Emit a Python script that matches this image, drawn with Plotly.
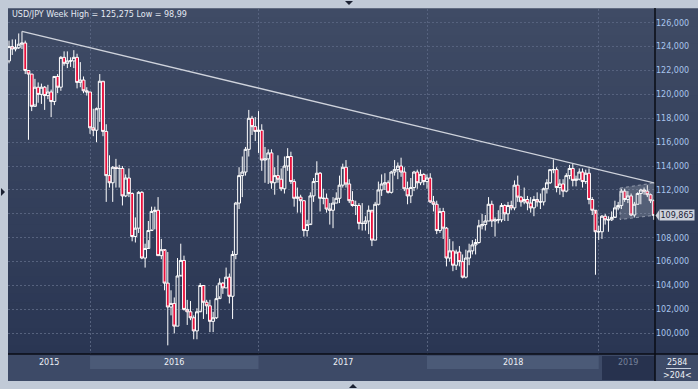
import plotly.graph_objects as go
import pandas as pd

# ---------------- data ----------------
week_start = "2015-07-13"
n_weeks = 200
dates = list(pd.date_range(week_start, periods=n_weeks, freq="7D"))

opens_2015 = [122.8,124.0,123.8,123.9,124.2,124.3,122.0,121.7,119.0,120.6,120.0,120.6,119.9,120.2,119.4,121.5,120.6,123.1,122.6,122.8,122.8,123.1,121.0,121.2,120.3]
highs_2015 = [124.5,124.6,124.6,125.1,125.275,124.5,122.0,121.7,121.3,121.0,120.9,120.7,120.8,120.4,121.5,121.7,123.2,123.6,123.6,123.1,123.7,123.4,122.7,121.5,120.6]
lows_2015 = [122.6,123.3,123.6,123.8,123.8,121.7,116.2,118.6,119.2,119.3,119.2,118.7,119.6,118.1,119.1,120.1,120.3,122.4,122.2,122.3,122.2,120.5,120.6,120.1,119.9]
closes_2015 = [124.0,123.8,123.9,124.2,124.3,122.0,121.7,119.0,120.6,120.0,120.6,119.9,120.2,119.4,121.5,120.6,123.1,122.6,122.8,122.8,123.1,121.0,121.2,120.3,120.2]

opens_2016 = [120.2,117.2,117.0,118.8,121.1,116.9,113.2,112.6,113.9,113.8,113.8,111.5,113.0,111.7,108.1,108.8,111.8,106.3,107.1,108.6,110.2,110.3,106.5,107.0,104.2,102.2,102.5,100.6,104.8,106.1,102.0,101.8,101.3,100.2,101.8,104.0,102.6,102.3,101.0,101.3,102.9,104.2,103.8,104.7,103.1,106.6,110.9,113.2,113.5,115.4,118.0,117.3]
highs_2016 = [120.2,118.8,118.9,121.7,121.0,117.5,114.9,114.0,114.6,114.1,114.0,113.3,113.8,111.8,109.7,111.9,111.9,107.5,109.4,110.6,110.6,111.4,107.9,106.9,106.8,103.6,103.0,106.3,107.5,106.5,102.8,102.7,101.5,102.1,104.2,104.0,102.8,102.8,101.8,104.0,104.6,104.3,105.5,105.0,106.9,111.0,113.9,114.8,115.6,118.7,118.2,118.1]
lows_2016 = [116.7,116.5,116.0,117.7,116.5,111.0,112.2,111.0,112.2,112.2,110.7,111.4,111.4,107.7,107.6,108.4,106.2,105.5,107.8,108.7,108.7,106.5,106.2,103.6,98.99,101.5,99.99,100.6,104.9,101.9,100.7,101.1,99.5,99.5,101.9,101.2,101.6,100.1,100.1,101.2,103.1,103.3,103.8,102.5,101.2,106.2,110.4,111.4,113.2,114.8,116.6,116.1]
closes_2016 = [117.2,117.0,118.8,121.1,116.9,113.2,112.6,113.9,113.8,113.8,111.5,113.0,111.7,108.1,108.8,111.8,106.3,107.1,108.6,110.2,110.3,106.5,107.0,104.2,102.2,102.5,100.6,104.8,106.1,102.0,101.8,101.3,100.2,101.8,104.0,102.6,102.3,101.0,101.3,102.9,104.2,103.8,104.7,103.1,106.6,110.9,113.2,113.5,115.4,118.0,117.3,116.9]

opens_2017 = [116.9,117.0,114.5,114.6,115.1,112.6,113.2,112.9,112.1,114.0,114.8,112.7,111.3,111.4,111.1,108.6,109.1,111.5,112.7,113.4,111.3,111.3,110.4,110.3,110.9,111.3,112.4,113.9,112.5,111.1,110.7,110.7,109.2,109.2,109.4,110.3,107.8,110.8,112.0,112.5,112.6,111.8,113.5,113.7,114.0,113.5,112.1,111.5,112.2,113.5,112.6,113.3]
highs_2017 = [118.6,117.5,115.6,115.4,115.4,113.9,114.9,113.8,114.8,115.5,115.2,112.9,112.2,111.6,111.1,109.5,111.8,113.0,114.4,113.5,112.1,111.7,110.9,111.4,111.8,113.2,114.2,114.5,112.9,111.9,111.1,110.9,110.9,109.8,110.7,110.1,111.0,112.7,113.3,113.4,112.8,113.6,114.5,114.3,114.7,113.9,112.7,113.0,113.6,113.7,113.7,113.4]
lows_2017 = [115.1,113.6,112.6,112.5,112.1,111.6,112.6,111.9,111.7,113.6,112.5,110.6,110.1,110.1,108.1,108.1,109.2,111.0,112.7,110.2,110.8,110.1,109.1,108.8,110.9,110.9,112.2,112.2,110.9,110.6,109.9,108.7,108.6,108.6,108.3,107.3,107.8,110.7,111.5,112.0,111.7,111.7,113.2,112.9,113.1,111.9,110.8,110.9,111.9,112.1,112.4,112.4]
closes_2017 = [117.0,114.5,114.6,115.1,112.6,113.2,112.9,112.1,114.0,114.8,112.7,111.3,111.4,111.1,108.6,109.1,111.5,112.7,113.4,111.3,111.3,110.4,110.3,110.9,111.3,112.4,113.9,112.5,111.1,110.7,110.7,109.2,109.2,109.4,110.3,107.8,110.8,112.0,112.5,112.6,111.8,113.5,113.7,114.0,113.5,112.1,111.5,112.2,113.5,112.6,113.3,112.7]

opens_2018 = [112.7,113.0,111.0,110.8,108.6,110.2,108.8,106.3,106.9,105.7,106.8,106.0,104.7,106.3,106.9,107.4,107.6,109.0,109.1,109.4,110.8,109.4,109.5,109.5,110.7,110.0,110.7,110.5,112.4,111.4,111.0,111.2,110.9,110.5,111.2,111.0,111.0,112.1,112.6,113.7,113.7,112.2,112.5,111.9,113.2,113.8,112.8,112.9,113.5,112.7,113.4,111.2,110.3]
highs_2018 = [113.3,113.4,111.5,111.1,110.5,110.5,108.9,107.9,107.7,107.0,107.3,106.6,107.0,107.5,107.8,107.9,109.5,110.0,109.9,111.4,111.1,109.7,110.3,110.9,110.8,111.0,111.1,112.8,113.2,111.5,112.2,111.5,111.4,111.5,111.8,111.7,112.2,112.9,113.7,114.55,113.9,112.9,112.9,113.4,114.1,114.2,113.2,113.8,113.8,113.7,113.8,111.4,110.0]
lows_2018 = [112.1,110.9,110.2,108.3,108.4,107.9,105.6,106.0,105.2,105.3,105.6,104.6,104.6,105.7,106.6,106.6,107.5,108.7,108.6,109.4,108.9,108.1,109.2,109.3,109.4,109.4,110.3,110.3,111.0,110.6,110.8,110.3,110.1,109.8,110.6,110.4,110.7,111.7,112.5,113.4,111.8,111.6,111.4,111.8,112.9,112.3,112.3,112.8,112.2,112.5,110.8,109.9,104.9]
closes_2018 = [113.0,111.0,110.8,108.6,110.2,108.8,106.3,106.9,105.7,106.8,106.0,104.7,106.3,106.9,107.4,107.6,109.0,109.1,109.4,110.8,109.4,109.5,109.5,110.7,110.0,110.7,110.5,112.4,111.4,111.0,111.2,110.9,110.5,111.2,111.0,111.0,112.1,112.6,113.7,113.7,112.2,112.5,111.9,113.2,113.8,112.8,112.9,113.5,112.7,113.4,111.2,110.3,108.5]

opens_2019 = [108.5,108.5,109.8,109.5,109.5,109.7,110.5,110.7,111.9,111.2,111.5,109.9,110.8,111.7,112.0,111.9,111.6,111.1]
highs_2019 = [109.0,109.9,110.0,109.8,110.2,111.1,111.0,112.1,112.1,111.9,111.7,111.0,111.8,112.1,112.2,112.4,111.7,111.2]
lows_2019 = [107.8,107.9,109.1,108.5,109.4,109.8,110.3,110.4,111.0,110.9,109.8,109.7,110.8,110.8,111.6,111.4,110.9,109.5]
closes_2019 = [108.5,109.8,109.5,109.5,109.7,110.5,110.7,111.9,111.2,111.5,109.9,110.8,111.7,112.0,111.9,111.6,111.1,109.865]

opens = opens_2015 + opens_2016 + opens_2017 + opens_2018 + opens_2019
highs = highs_2015 + highs_2016 + highs_2017 + highs_2018 + highs_2019
lows = lows_2015 + lows_2016 + lows_2017 + lows_2018 + lows_2019
closes = closes_2015 + closes_2016 + closes_2017 + closes_2018 + closes_2019

title_text = "USD/JPY Week High = 125,275 Low = 98,99"
y_ticks = [100, 102, 104, 106, 108, 110, 112, 114, 116, 118, 120, 122, 124, 126]
# the 110,000 label is hidden behind the last-price label in the reference
y_tick_labels = ["100,000", "102,000", "104,000", "106,000", "108,000", "", "112,000",
                 "114,000", "116,000", "118,000", "120,000", "122,000", "124,000", "126,000"]
year_labels = ["2015", "2016", "2017", "2018", "2019"]
last_price = 109.865
last_price_text = "109,865"
bar_count_top = "2584"
bar_count_bottom = ">204<"

trend_x = ["2015-08-10", "2019-05-08 14:00"]
trend_y = [125.275, 112.57]
channel_x = ["2019-02-22", "2019-05-08 14:00", "2019-05-08 14:00", "2019-02-22", "2019-02-22"]
channel_y = [112.16, 112.60, 109.88, 109.52, 112.16]

x_range = ["2015-07-10 19:00", "2019-05-08 14:00"]
y_range = [98.267, 127.147]

# ---------------- geometry / styles ----------------
W, H = 698, 389
ML, MR, MT, MB = 8, 43, 9, 35
PW, PH = W - ML - MR, H - MT - MB

def px(xp):
    return (xp - ML) / PW

def py(yp):
    return (H - MB - yp) / PH

FONT = "DejaVu Sans"
grid_col = "#56627e"

fig = go.Figure()

fig.add_trace(go.Scatter(x=channel_x, y=channel_y, mode="lines", fill="toself",
                         fillcolor="rgba(205,210,220,0.22)",
                         line=dict(color="rgba(210,215,225,0.55)", width=1, dash="dot"),
                         hoverinfo="skip", showlegend=False))

fig.add_trace(go.Candlestick(
    x=dates, open=opens, high=highs, low=lows, close=closes,
    increasing=dict(line=dict(color="#ffffff", width=1), fillcolor="rgba(0,0,0,0)"),
    decreasing=dict(line=dict(color="#ffffff", width=1), fillcolor="#e8103c"),
    whiskerwidth=0, hoverinfo="skip", showlegend=False))

fig.add_trace(go.Scatter(x=trend_x, y=trend_y, mode="lines",
                         line=dict(color="#cfd3dc", width=1.3),
                         hoverinfo="skip", showlegend=False))

# year boundaries = first bar of each year
year_first = {}
for d in dates:
    year_first.setdefault(d.year, d)
bounds = [year_first[y] for y in sorted(year_first)]

shapes = []
# gradient background of plot + right panel
N = 40
top = (63, 75, 101)
bot = (42, 54, 83)
xr = (W - ML) / PW
for k in range(N):
    t = (k + 0.5) / N
    c = tuple(int(round(bot[i] + (top[i] - bot[i]) * t)) for i in range(3))
    shapes.append(dict(type="rect", xref="paper", yref="paper", x0=0, x1=xr,
                       y0=k / N, y1=(k + 1) / N + 0.002, line=dict(width=0),
                       fillcolor="rgb(%d,%d,%d)" % c, layer="below"))
# bottom bar
shapes.append(dict(type="rect", xref="paper", yref="paper", x0=0, x1=xr,
                   y0=py(381), y1=0, line=dict(width=0), fillcolor="#3d4a67", layer="below"))
# alternate year bands
for a, b in [(bounds[1], bounds[2]), (bounds[3], bounds[4])]:
    shapes.append(dict(type="rect", xref="x", yref="paper", x0=a, x1=b,
                       y0=py(369), y1=py(356), line=dict(width=0), fillcolor="#4b5a77", layer="below"))
# 2019 box
shapes.append(dict(type="rect", xref="paper", yref="paper", x0=px(602), x1=1,
                   y0=py(380), y1=py(356), line=dict(width=0), fillcolor="#27324e", layer="below"))
# black separator lines
shapes.append(dict(type="line", xref="paper", yref="paper", x0=1, x1=1, y0=py(381), y1=py(8),
                   line=dict(color="#0a0d14", width=1.5)))
shapes.append(dict(type="line", xref="paper", yref="paper", x0=0, x1=xr, y0=0, y1=0,
                   line=dict(color="#0a0d14", width=1.5)))
# underline in bar count box
shapes.append(dict(type="line", xref="paper", yref="paper", x0=px(666), x1=px(691), y0=py(368.5), y1=py(368.5),
                   line=dict(color="#c8d0de", width=1)))
# price label pointer
shapes.append(dict(type="path", xref="paper", yref="y",
                   path="M %f,%f L %f,%f L %f,%f Z" % (px(655.5), last_price, px(659), last_price + 0.42,
                                                       px(659), last_price - 0.42),
                   fillcolor="#cdd2db", line=dict(width=0)))
# small frame triangles
shapes.append(dict(type="path", xref="paper", yref="paper",
                   path="M %f,%f L %f,%f L %f,%f Z" % (px(345), py(1), px(353), py(1), px(349), py(5)),
                   fillcolor="#1c2233", line=dict(width=0)))
shapes.append(dict(type="path", xref="paper", yref="paper",
                   path="M %f,%f L %f,%f L %f,%f Z" % (px(349), py(388), px(357), py(388), px(353), py(384)),
                   fillcolor="#1c2233", line=dict(width=0)))
shapes.append(dict(type="path", xref="paper", yref="paper",
                   path="M %f,%f L %f,%f L %f,%f Z" % (px(1), py(188), px(1), py(196), px(5), py(192)),
                   fillcolor="#1c2233", line=dict(width=0)))

annotations = []
annotations.append(dict(text=title_text, xref="paper", yref="paper", x=px(10), y=py(14.5),
                        xanchor="left", yanchor="middle", showarrow=False,
                        font=dict(family=FONT, size=8, color="#e4e9f2")))
# year labels centered in visible segments
seg_edges = [pd.Timestamp(x_range[0])] + bounds[1:] + [pd.Timestamp(x_range[1])]
for i, lab in enumerate(year_labels):
    a, b = seg_edges[i], seg_edges[i + 1]
    if lab == "2019":
        a = pd.Timestamp("2019-01-14")
    mid = a + (b - a) / 2
    annotations.append(dict(text=lab, xref="x", yref="paper", x=mid, y=py(362.5),
                            xanchor="center", yanchor="middle", showarrow=False,
                            font=dict(family=FONT, size=8,
                                      color="#76829b" if lab == "2019" else "#eef1f6")))
annotations.append(dict(text=bar_count_top, xref="paper", yref="paper", x=px(677), y=py(362),
                        xanchor="center", yanchor="middle", showarrow=False,
                        font=dict(family=FONT, size=8, color="#eef1f6")))
annotations.append(dict(text=bar_count_bottom, xref="paper", yref="paper", x=px(677), y=py(375.5),
                        xanchor="center", yanchor="middle", showarrow=False,
                        font=dict(family=FONT, size=8, color="#eef1f6")))
annotations.append(dict(text=last_price_text, xref="paper", yref="y", x=px(658.5), y=last_price,
                        xanchor="left", yanchor="middle", showarrow=False, bgcolor="#cdd2db",
                        borderpad=0.5, font=dict(family=FONT, size=8, color="#1b2236")))

fig.update_layout(
    width=W, height=H,
    margin=dict(l=ML, r=MR, t=MT, b=MB, pad=0),
    paper_bgcolor="#c1cad7",
    plot_bgcolor="#36435f",
    separators=", ",
    showlegend=False,
    boxgap=0.12,
    boxgroupgap=0,
    shapes=shapes,
    annotations=annotations,
    xaxis=dict(type="date", range=x_range, showticklabels=False, tickvals=bounds[1:],
               showgrid=True, gridcolor=grid_col, griddash="2px,2px", gridwidth=1,
               zeroline=False, showline=False, ticks="", rangeslider=dict(visible=False),
               fixedrange=True),
    yaxis=dict(side="right", range=y_range, tickvals=y_ticks, ticktext=y_tick_labels,
               showgrid=True, gridcolor=grid_col, griddash="2px,2px", gridwidth=1,
               zeroline=False, showline=False, ticks="",
               tickfont=dict(family=FONT, size=8, color="#a9c5ec"), fixedrange=True),
)

fig.write_html("out.html", config={"displayModeBar": False},
               post_script="document.body.style.margin='0px';document.body.style.background='#c1cad7';document.body.style.overflow='hidden';")
